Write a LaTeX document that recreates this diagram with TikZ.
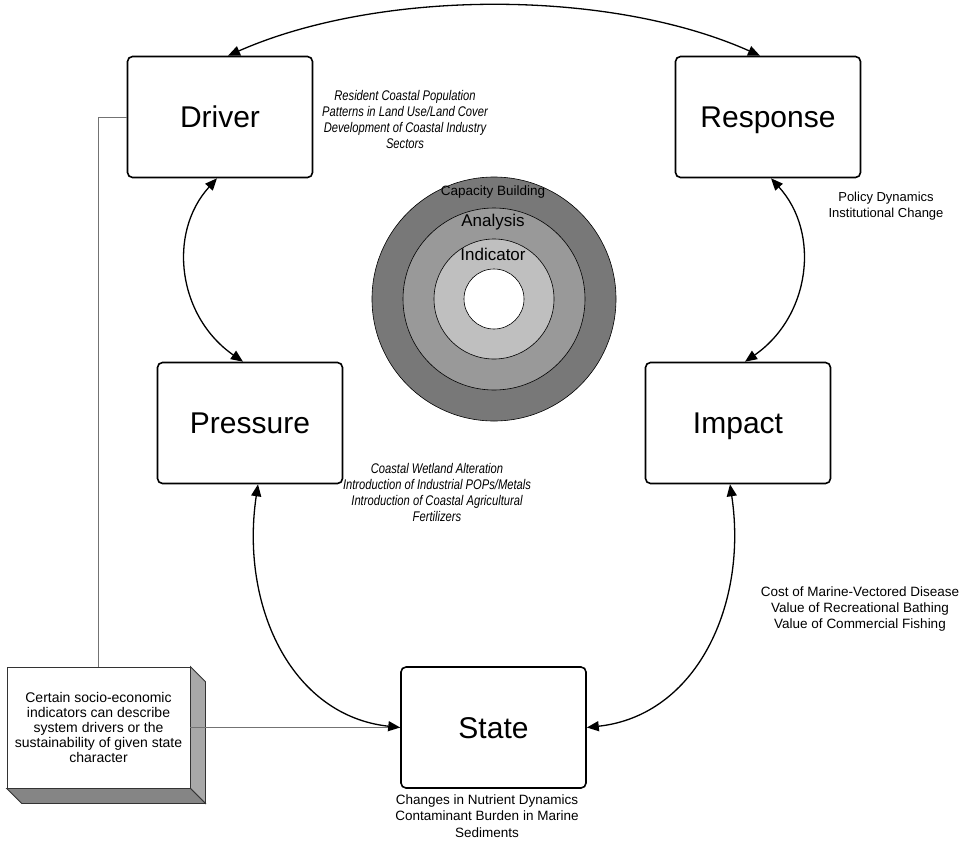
\documentclass[tikz,border=0pt]{standalone}
\usepackage{fontspec}
\setmainfont{Liberation Sans}
\newfontfamily\condit{Liberation Sans}[FakeStretch=0.8]
\usetikzlibrary{arrows.meta}
\definecolor{ringA}{gray}{0.47}
\definecolor{ringB}{gray}{0.60}
\definecolor{ringC}{gray}{0.75}
\definecolor{sideface}{gray}{0.66}
\definecolor{bottomface}{gray}{0.52}
\definecolor{connline}{gray}{0.45}
\begin{document}
\begin{tikzpicture}[x=1pt,y=-1pt,
  box/.style={draw, line width=1.6pt, rounded corners=5pt, minimum width=185pt,
    minimum height=121pt, inner sep=0pt, text height=21.5pt, text depth=0pt,
    font=\fontsize{30}{36}\selectfont},
  arr/.style={line width=1.3pt,
    {Triangle[length=12pt,width=10pt]}-{Triangle[length=12pt,width=10pt]}},
  ittext/.style={align=center, inner sep=0pt, font=\condit\itshape\fontsize{14}{16}\selectfont},
  plaintext/.style={align=center, inner sep=0pt, font=\fontsize{13.5}{16.3}\selectfont},
  ringlabel/.style={inner sep=0pt},
  notebox/.style={draw=black!80, line width=0.8pt, fill=white, minimum width=183pt,
    minimum height=121pt, inner sep=0pt, align=center, font=\fontsize{14}{15}\selectfont},
  face/.style={draw=black!80, line width=0.8pt},
  conn/.style={draw=connline, line width=0.9pt}]
\useasboundingbox (0,0) rectangle (966,841);

% concentric rings
\coordinate (ctr) at (494,299);
\draw[fill=ringA, line width=0.6pt] (ctr) circle[radius=122pt];
\draw[fill=ringB, line width=0.6pt] (ctr) circle[radius=91pt];
\draw[fill=ringC, line width=0.6pt] (ctr) circle[radius=60pt];
\draw[fill=white, line width=0.6pt] (ctr) circle[radius=30pt];
\node[ringlabel, font=\fontsize{13.5}{16}\selectfont] (cap) at (493,192) {Capacity Building};
\node[ringlabel, font=\fontsize{17}{20}\selectfont] (ana) at (493,222) {Analysis};
\node[ringlabel, font=\fontsize{17}{20}\selectfont] (ind) at (493,254) {Indicator};

% main boxes
\node[box] (driver) at (220,117) {Driver};
\node[box] (response) at (768,117) {Response};
\node[box] (pressure) at (250,423) {Pressure};
\node[box] (impact) at (738,423) {Impact};
\node[box] (state) at (493.5,727.5) {State};

% note box with 3D faces
\node[notebox] (note) at (98.5,727.5) {Certain socio-economic\\indicators can describe\\system drivers or the\\sustainability of given state\\character};
\filldraw[face, fill=sideface] (note.north east) -- ++(15,15) -- ([shift={(15,15)}]note.south east) -- (note.south east) -- cycle;
\filldraw[face, fill=bottomface] (note.south west) -- ++(15,15) -- ([shift={(15,15)}]note.south east) -- (note.south east) -- cycle;

% note connectors
\draw[conn] (note.north) |- (driver.west);
\draw[conn] (note.east) -- (state.west);

% curved double arrows
\draw[arr] ([xshift=8pt]driver.north) .. controls +(152,-67) and +(-150,-67) .. ([xshift=-8pt]response.north);
\draw[arr] ([xshift=-3pt]driver.south) .. controls +(-50,55) and +(-65,-45) .. ([xshift=-7pt]pressure.north);
\draw[arr] ([xshift=3pt]response.south) .. controls +(50,55) and +(65,-45) .. ([xshift=7pt]impact.north);
\draw[arr] ([xshift=8pt]pressure.south) .. controls +(-18,120) and +(-110,-12) .. (state.west);
\draw[arr] ([xshift=-8pt]impact.south) .. controls +(18,120) and +(110,-12) .. (state.east);

% annotation texts
\node[ittext] (drvtxt) at (405,119) {Resident Coastal Population\\Patterns in Land Use/Land Cover\\Development of Coastal Industry\\Sectors};
\node[ittext] (prstxt) at (437,492) {Coastal Wetland Alteration\\Introduction of Industrial POPs/Metals\\Introduction of Coastal Agricultural\\Fertilizers};
\node[plaintext, font=\fontsize{13}{16}\selectfont] (rsptxt) at (886,206) {Policy Dynamics\\Institutional Change};
\node[plaintext] (imptxt) at (860,609) {Cost of Marine-Vectored Disease\\Value of Recreational Bathing\\Value of Commercial Fishing};
\node[plaintext] (sttxt) at (487,816) {Changes in Nutrient Dynamics\\Contaminant Burden in Marine\\Sediments};
\end{tikzpicture}
\end{document}
